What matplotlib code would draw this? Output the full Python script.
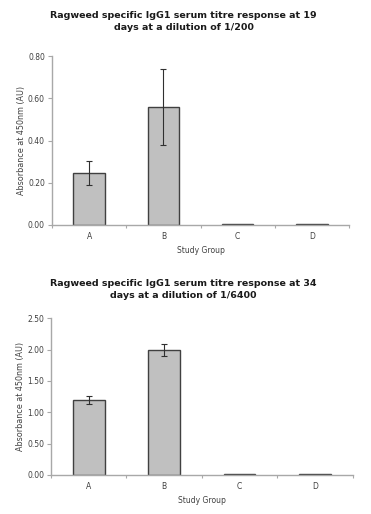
import matplotlib
matplotlib.use("Agg")
import matplotlib.pyplot as plt
from matplotlib.ticker import FixedLocator, FormatStrFormatter

groups = ["A", "B", "C", "D"]

title_top = "Ragweed specific IgG1 serum titre response at 19\ndays at a dilution of 1/200"
values_top = [0.245, 0.56, 0.004, 0.005]
errors_top = [0.057, 0.18, 0.0, 0.0]
yticks_top = [0.0, 0.2, 0.4, 0.6, 0.8]

title_bot = "Ragweed specific IgG1 serum titre response at 34\ndays at a dilution of 1/6400"
values_bot = [1.20, 2.00, 0.012, 0.012]
errors_bot = [0.06, 0.095, 0.0, 0.0]
yticks_bot = [0.0, 0.5, 1.0, 1.5, 2.0, 2.5]

xlabel = "Study Group"
ylabel = "Absorbance at 450nm (AU)"

plt.rcParams['font.family'] = ['DejaVu Sans']

fig = plt.figure(figsize=(3.71, 5.14), dpi=100)
fig.patch.set_facecolor("white")

spine_c = "#a8a8a8"
text_c = "#404040"


def draw(ax, vals, errs, yticks, title, title_y):
    x = list(range(len(groups)))
    ax.bar(x, vals, width=0.42, color="#c0c0c0", edgecolor="#404040", linewidth=1.0, zorder=2)
    ax.errorbar([xi for xi, e in zip(x, errs) if e > 0],
                [v for v, e in zip(vals, errs) if e > 0],
                yerr=[e for e in errs if e > 0],
                fmt="none", ecolor="#303030", elinewidth=0.8, capsize=2, capthick=0.8, zorder=3)
    ax.set_xlim(-0.5, len(groups) - 0.5)
    ax.set_ylim(yticks[0], yticks[-1])
    ax.set_yticks(yticks)
    ax.yaxis.set_major_formatter(FormatStrFormatter("%.2f"))
    ax.set_xticks(x)
    ax.set_xticklabels(groups)
    ax.xaxis.set_minor_locator(FixedLocator([i + 0.5 for i in range(-1, len(groups))]))
    ax.tick_params(axis="x", which="major", length=0, pad=5, labelsize=5.5, labelcolor=text_c)
    ax.tick_params(axis="x", which="minor", length=2.5, color=spine_c, width=0.8, direction="out")
    ax.tick_params(axis="y", length=3, color=spine_c, width=0.8, pad=2, labelsize=5.5, labelcolor=text_c)
    for s in ["top", "right"]:
        ax.spines[s].set_visible(False)
    for s in ["left", "bottom"]:
        ax.spines[s].set_color(spine_c)
        ax.spines[s].set_linewidth(1.0)
    ax.set_xlabel(xlabel, fontsize=5.5, color=text_c, labelpad=4)
    ax.set_ylabel(ylabel, fontsize=5.8, color=text_c, labelpad=1.5)
    fig.text(0.495, title_y, title, fontsize=6.8, fontweight="bold", color="#1a1a1a",
             ha="center", va="top", linespacing=1.4)


ax1 = fig.add_axes([0.140, 0.5623, 0.801, 0.3287])
draw(ax1, values_top, errors_top, yticks_top, title_top, 1 - 11.5 / 514)

ax2 = fig.add_axes([0.1375, 0.0759, 0.8135, 0.3048])
draw(ax2, values_bot, errors_bot, yticks_bot, title_bot, 1 - 279.5 / 514)

fig.savefig("out.png", dpi=100, facecolor="white")
